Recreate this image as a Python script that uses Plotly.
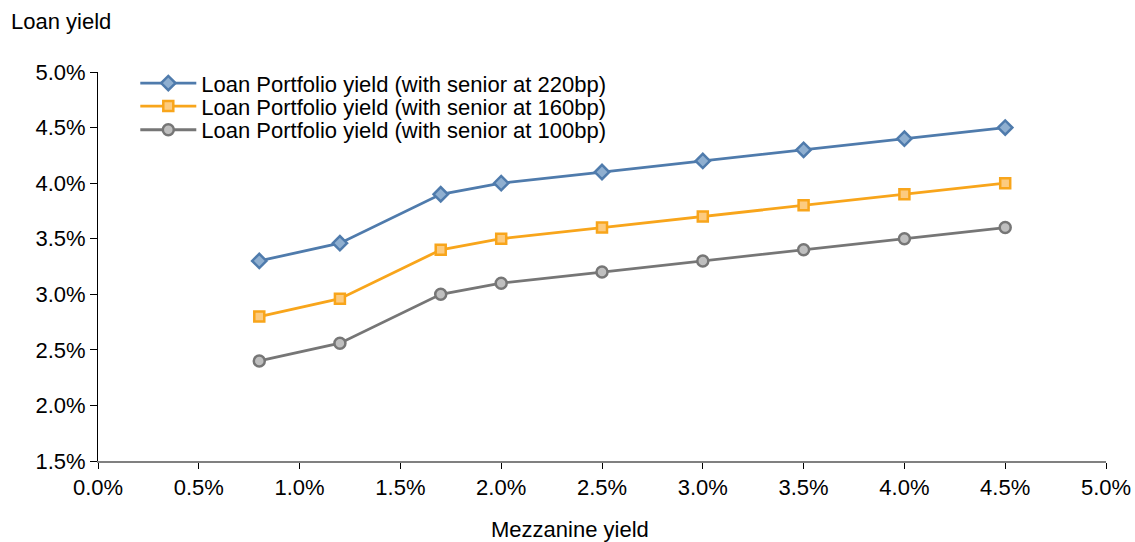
import plotly.graph_objects as go

mezz = [0.008, 0.012, 0.017, 0.020, 0.025, 0.030, 0.035, 0.040, 0.045]
yield_220 = [0.033, 0.0346, 0.039, 0.040, 0.041, 0.042, 0.043, 0.044, 0.045]
yield_160 = [0.028, 0.0296, 0.034, 0.035, 0.036, 0.037, 0.038, 0.039, 0.040]
yield_100 = [0.024, 0.0256, 0.030, 0.031, 0.032, 0.033, 0.034, 0.035, 0.036]
names = ["Loan Portfolio yield (with senior at 220bp)",
         "Loan Portfolio yield (with senior at 160bp)",
         "Loan Portfolio yield (with senior at 100bp)"]

FONT = "Liberation Sans, Arial, sans-serif"
FS = 22
fig = go.Figure()
styles = [
    ("#4F7BAC", "#8FAFD0", "diamond", 11),
    ("#F8A51B", "#FCCB80", "square", 10),
    ("#767676", "#BFBFBF", "circle", 11),
]
legend_ids = ["legend", "legend2", "legend3"]
legend_y = [0.971, 0.912, 0.851]
for ys, name, (lc, fc, sym, sz), lid in zip([yield_220, yield_160, yield_100], names, styles, legend_ids):
    fig.add_trace(go.Scatter(
        x=mezz, y=ys, name=name, mode="lines+markers", legend=lid,
        line=dict(color=lc, width=2.8),
        marker=dict(symbol=sym, size=sz, color=fc, line=dict(color=lc, width=2.5)),
    ))

legend_common = dict(x=0.037, xanchor="left", yanchor="middle",
                     bgcolor="rgba(0,0,0,0)", itemwidth=56,
                     font=dict(family=FONT, size=FS))

fig.update_layout(
    width=1135, height=542,
    paper_bgcolor="white", plot_bgcolor="white",
    margin=dict(l=98, r=29, t=72, b=81),
    font=dict(family=FONT, size=FS, color="black"),
    legend=dict(y=legend_y[0], **legend_common),
    legend2=dict(y=legend_y[1], **legend_common),
    legend3=dict(y=legend_y[2], **legend_common),
    xaxis=dict(range=[0, 0.05], dtick=0.005, tickformat=".1%", automargin=False,
               showgrid=False, zeroline=False, showline=True, linecolor="#808080",
               linewidth=1.5, ticks="outside", ticklen=6, tickcolor="black",
               tickfont=dict(family=FONT, size=FS)),
    yaxis=dict(range=[0.015, 0.05], dtick=0.005, tickformat=".1%", automargin=False,
               showgrid=False, zeroline=False, showline=True, linecolor="black",
               linewidth=1, ticks="outside", ticklen=7, tickcolor="black",
               tickfont=dict(family=FONT, size=FS)),
    showlegend=True,
)
fig.add_annotation(text="Loan yield", xref="paper", yref="paper",
                   x=-0.088, y=1.13, xanchor="left", yanchor="middle",
                   showarrow=False, font=dict(family=FONT, size=FS))
fig.add_annotation(text="Mezzanine yield", xref="paper", yref="paper",
                   x=0.468, y=-0.177, xanchor="center", yanchor="middle",
                   showarrow=False, font=dict(family=FONT, size=FS))

fig.write_html("out.html", config={"displayModeBar": False},
               post_script="document.body.style.margin='0';document.body.style.overflow='hidden';")
